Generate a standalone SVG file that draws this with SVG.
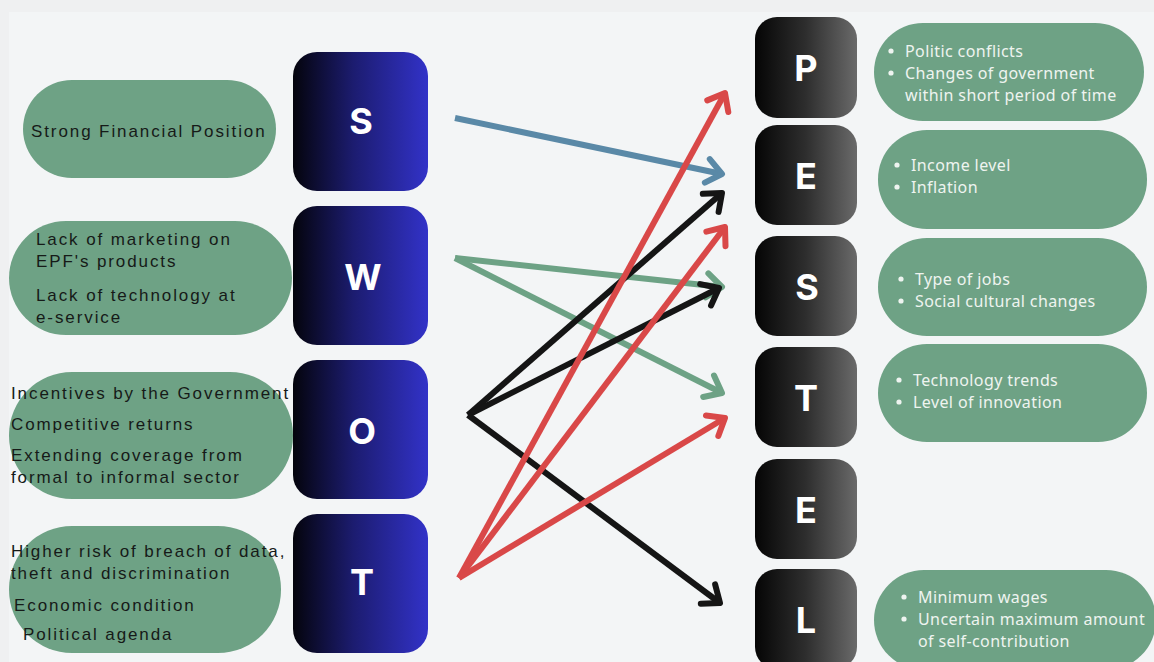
<svg xmlns="http://www.w3.org/2000/svg" width="1154" height="662" viewBox="0 0 1154 662">
  <defs>
    <linearGradient id="gSwot" x1="0" y1="0" x2="1" y2="0">
      <stop offset="0" stop-color="#04040c"/>
      <stop offset="0.45" stop-color="#1c1c70"/>
      <stop offset="1" stop-color="#3232c8"/>
    </linearGradient>
    <linearGradient id="gPest" x1="0" y1="0" x2="1" y2="0">
      <stop offset="0" stop-color="#050505"/>
      <stop offset="0.5" stop-color="#2e2e2e"/>
      <stop offset="1" stop-color="#6a6a6a"/>
    </linearGradient>
    <marker id="aBlue" viewBox="-22 -18 26 36" refX="0" refY="0" markerWidth="26" markerHeight="36" markerUnits="userSpaceOnUse" orient="auto">
      <path d="M-15,-12 L0,0 L-15,12" fill="none" stroke="#5a89a7" stroke-width="6" stroke-linecap="round" stroke-linejoin="round"/>
    </marker>
    <marker id="aGreen" viewBox="-22 -18 26 36" refX="0" refY="0" markerWidth="26" markerHeight="36" markerUnits="userSpaceOnUse" orient="auto">
      <path d="M-15,-12 L0,0 L-15,12" fill="none" stroke="#6da285" stroke-width="6" stroke-linecap="round" stroke-linejoin="round"/>
    </marker>
    <marker id="aBlack" viewBox="-22 -18 26 36" refX="0" refY="0" markerWidth="26" markerHeight="36" markerUnits="userSpaceOnUse" orient="auto">
      <path d="M-15,-12 L0,0 L-15,12" fill="none" stroke="#151515" stroke-width="6" stroke-linecap="round" stroke-linejoin="round"/>
    </marker>
    <marker id="aRed" viewBox="-22 -18 26 36" refX="0" refY="0" markerWidth="26" markerHeight="36" markerUnits="userSpaceOnUse" orient="auto">
      <path d="M-15,-12 L0,0 L-15,12" fill="none" stroke="#d94848" stroke-width="6" stroke-linecap="round" stroke-linejoin="round"/>
    </marker>
  </defs>
  <style>
    .pill { fill: #6ea285; }
    .swot { fill: url(#gSwot); }
    .pest { fill: url(#gPest); }
    .letter { font-family: Inter, Roboto, "Liberation Sans", sans-serif; font-weight: 700; font-size: 36px; fill: #ffffff; text-anchor: middle; }
    .lt { font-family: "Liberation Sans", Arial, sans-serif; font-size: 17px; letter-spacing: 1.9px; fill: #161a18; }
    .rt { font-family: "Noto Sans", "Open Sans", sans-serif; font-size: 16px; letter-spacing: 0.4px; fill: #eef4f0; }
    .dot { fill: #eef4f0; }
    .conn { fill: none; stroke-width: 6; stroke-linecap: butt; }
  </style>

  <!-- backdrop -->
  <rect x="0" y="0" width="1154" height="662" fill="#eff0f1"/>
  <rect x="9" y="12" width="1145" height="650" fill="#f3f5f6"/>

  <!-- SWOT column -->
  <g id="swot-s">
    <rect class="pill" x="23" y="80" width="253" height="98" rx="49"/>
    <text class="lt" x="31" y="137">Strong Financial Position</text>
    <rect class="swot" x="293" y="52" width="135" height="139" rx="24"/>
    <text class="letter" x="361" y="134">S</text>
  </g>
  <g id="swot-w">
    <rect class="pill" x="9" y="221" width="283" height="114" rx="57"/>
    <text class="lt" x="36" y="245">Lack of marketing on</text>
    <text class="lt" x="36" y="267">EPF's products</text>
    <text class="lt" x="36" y="301">Lack of technology at</text>
    <text class="lt" x="36" y="323">e-service</text>
    <rect class="swot" x="293" y="206" width="135" height="139" rx="24"/>
    <text class="letter" x="363" y="290">W</text>
  </g>
  <g id="swot-o">
    <rect class="pill" x="9" y="372" width="284" height="127" rx="63"/>
    <text class="lt" x="11" y="399">Incentives by the Government</text>
    <text class="lt" x="11" y="430">Competitive returns</text>
    <text class="lt" x="11" y="461">Extending coverage from</text>
    <text class="lt" x="11" y="483">formal to informal sector</text>
    <rect class="swot" x="293" y="360" width="135" height="139" rx="24"/>
    <text class="letter" x="362" y="444">O</text>
  </g>
  <g id="swot-t">
    <rect class="pill" x="9" y="526" width="272" height="127" rx="63"/>
    <text class="lt" x="11" y="557">Higher risk of breach of data,</text>
    <text class="lt" x="11" y="579">theft and discrimination</text>
    <text class="lt" x="14" y="611">Economic condition</text>
    <text class="lt" x="23" y="640">Political agenda</text>
    <rect class="swot" x="293" y="514" width="135" height="139" rx="24"/>
    <text class="letter" x="362" y="595">T</text>
  </g>

  <!-- PESTEL column -->
  <g id="pestel-p">
    <rect class="pest" x="755" y="17" width="102" height="101" rx="22"/>
    <text class="letter" x="806" y="81">P</text>
    <rect class="pill" x="874" y="23" width="270" height="98" rx="49"/>
    <circle class="dot" cx="891" cy="51" r="2.6"/>
    <text class="rt" x="905" y="57">Politic conflicts</text>
    <circle class="dot" cx="891" cy="73" r="2.6"/>
    <text class="rt" x="905" y="79">Changes of government</text>
    <text class="rt" x="905" y="101">within short period of time</text>
  </g>
  <g id="pestel-e1">
    <rect class="pest" x="755" y="125" width="102" height="100" rx="22"/>
    <text class="letter" x="806" y="189">E</text>
    <rect class="pill" x="878" y="130" width="269" height="99" rx="49"/>
    <circle class="dot" cx="897" cy="165" r="2.6"/>
    <text class="rt" x="911" y="171">Income level</text>
    <circle class="dot" cx="897" cy="187" r="2.6"/>
    <text class="rt" x="911" y="193">Inflation</text>
  </g>
  <g id="pestel-s">
    <rect class="pest" x="755" y="236" width="102" height="100" rx="22"/>
    <text class="letter" x="807" y="300">S</text>
    <rect class="pill" x="878" y="238" width="269" height="98" rx="49"/>
    <circle class="dot" cx="901" cy="279" r="2.6"/>
    <text class="rt" x="915" y="285">Type of jobs</text>
    <circle class="dot" cx="901" cy="301" r="2.6"/>
    <text class="rt" x="915" y="307">Social cultural changes</text>
  </g>
  <g id="pestel-t">
    <rect class="pest" x="755" y="347" width="102" height="100" rx="22"/>
    <text class="letter" x="806" y="411">T</text>
    <rect class="pill" x="878" y="344" width="269" height="98" rx="49"/>
    <circle class="dot" cx="899" cy="380" r="2.6"/>
    <text class="rt" x="913" y="386">Technology trends</text>
    <circle class="dot" cx="899" cy="402" r="2.6"/>
    <text class="rt" x="913" y="408">Level of innovation</text>
  </g>
  <g id="pestel-e2">
    <rect class="pest" x="755" y="459" width="102" height="100" rx="22"/>
    <text class="letter" x="806" y="523">E</text>
  </g>
  <g id="pestel-l">
    <rect class="pest" x="755" y="569" width="102" height="100" rx="22"/>
    <text class="letter" x="806" y="633">L</text>
    <rect class="pill" x="874" y="570" width="282" height="100" rx="50"/>
    <circle class="dot" cx="904" cy="597" r="2.6"/>
    <text class="rt" x="918" y="603">Minimum wages</text>
    <circle class="dot" cx="904" cy="619" r="2.6"/>
    <text class="rt" x="918" y="625">Uncertain maximum amount</text>
    <text class="rt" x="918" y="647">of self-contribution</text>
  </g>

  <!-- connectors -->
  <g id="connectors">
    <line class="conn" x1="455" y1="118" x2="722" y2="174" stroke="#5a89a7" marker-end="url(#aBlue)"/>
    <line class="conn" x1="455" y1="258" x2="722" y2="287" stroke="#6da285" marker-end="url(#aGreen)"/>
    <line class="conn" x1="455" y1="258" x2="722" y2="393" stroke="#6da285" marker-end="url(#aGreen)"/>
    <line class="conn" x1="468" y1="415" x2="722" y2="193" stroke="#151515" marker-end="url(#aBlack)"/>
    <line class="conn" x1="468" y1="415" x2="719" y2="288" stroke="#151515" marker-end="url(#aBlack)"/>
    <line class="conn" x1="468" y1="415" x2="720" y2="603" stroke="#151515" marker-end="url(#aBlack)"/>
    <line class="conn" x1="459" y1="578" x2="725" y2="93" stroke="#d94848" marker-end="url(#aRed)"/>
    <line class="conn" x1="459" y1="578" x2="725" y2="227" stroke="#d94848" marker-end="url(#aRed)"/>
    <line class="conn" x1="459" y1="578" x2="725" y2="418" stroke="#d94848" marker-end="url(#aRed)"/>
  </g>
</svg>
